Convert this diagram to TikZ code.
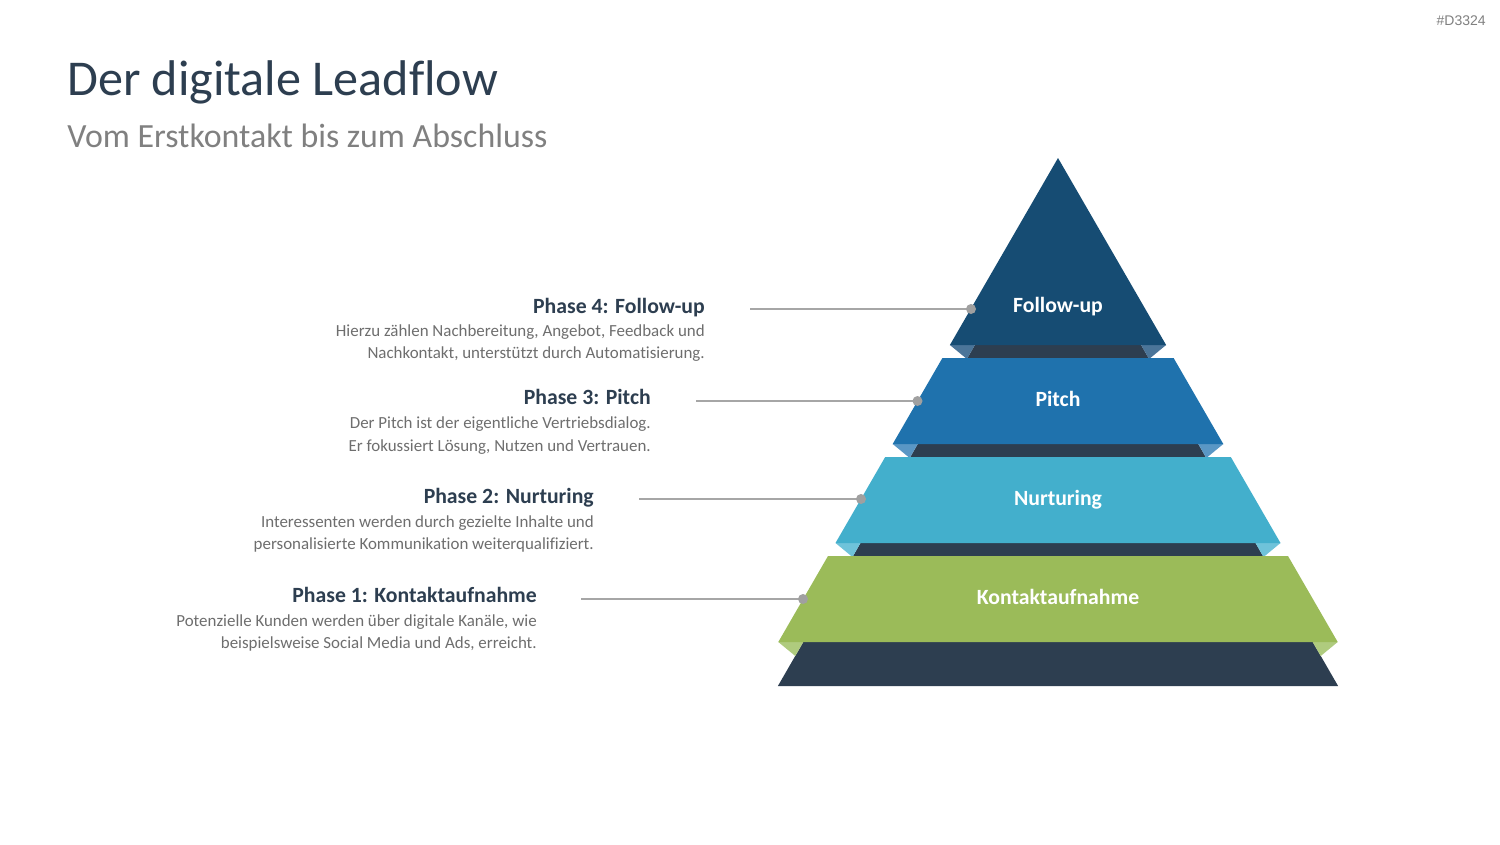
\documentclass[tikz,border=0pt]{standalone}
\usepackage{fontspec}
\setmainfont{Carlito}[Ligatures=NoCommon]
\newfontfamily\tagfont{Liberation Sans}
\definecolor{fucol}{HTML}{164C73}
\definecolor{fulight}{HTML}{4B7599}
\definecolor{picol}{HTML}{1F72AD}
\definecolor{pilight}{HTML}{5A97C5}
\definecolor{nucol}{HTML}{43AFCC}
\definecolor{nulight}{HTML}{6FC3DA}
\definecolor{kocol}{HTML}{9BBB59}
\definecolor{kolight}{HTML}{AFCB7E}
\definecolor{darkband}{HTML}{2D3E50}
\definecolor{titlecol}{HTML}{2D3E50}
\definecolor{subcol}{HTML}{808080}
\definecolor{desccol}{HTML}{6E6E6E}
\definecolor{linecol}{HTML}{A6A6A6}
\definecolor{dotcol}{HTML}{A0A0A0}
\tikzset{
  heading/.style={anchor=base east, inner sep=0pt, text=titlecol, font=\fontsize{16.3}{19}\selectfont\bfseries},
  desc/.style={anchor=base east, inner sep=0pt, text=desccol, font=\fontsize{12.7}{15}\selectfont},
  layerlabel/.style={anchor=base, inner sep=0pt, text=white, font=\fontsize{16.3}{19}\selectfont\bfseries},
  connector/.style={draw=linecol, line width=1.1pt},
  dot/.style={fill=dotcol},
}
\begin{document}
\begin{tikzpicture}[x=0.75pt, y=-0.75pt]
\useasboundingbox (0,0) rectangle (1500,844);
\fill[white] (0,0) rectangle (1500,844);

% tag
\node[anchor=base east, inner sep=0pt, text=subcol, font=\tagfont\fontsize{10.5}{12}\selectfont] (tag) at (1486,25) {\#D3324};

% title
\node[anchor=base west, inner sep=0pt, text=titlecol, font=\fontsize{37.6}{44}\selectfont] (title) at (67,95) {Der digitale Leadflow};
\node[anchor=base west, inner sep=0pt, text=subcol, font=\fontsize{25.4}{30}\selectfont] (subtitle) at (67,147) {Vom Erstkontakt bis zum Abschluss};

% dark bands
\fill[darkband] (974.9,345) -- (1141.1,345) -- (1149.1,359) -- (966.9,359) -- cycle;
\fill[darkband] (917.7,444) -- (1198.3,444) -- (1206.3,458) -- (909.7,458) -- cycle;
\fill[darkband] (860.5,543) -- (1255.5,543) -- (1263.5,557) -- (852.5,557) -- cycle;
\fill[darkband] (803.3,642) -- (1312.7,642) -- (1338.1,686) -- (777.9,686) -- cycle;

% light corner triangles
\fill[fulight] (949.9,345) -- (974.9,345) -- (966.9,359) -- cycle;
\fill[fulight] (1166.1,345) -- (1141.1,345) -- (1149.1,359) -- cycle;
\fill[pilight] (892.7,444) -- (917.7,444) -- (909.7,458) -- cycle;
\fill[pilight] (1223.3,444) -- (1198.3,444) -- (1206.3,458) -- cycle;
\fill[nulight] (835.5,543) -- (860.5,543) -- (852.5,557) -- cycle;
\fill[nulight] (1280.5,543) -- (1255.5,543) -- (1263.5,557) -- cycle;
\fill[kolight] (778.3,642) -- (803.3,642) -- (795.3,656) -- cycle;
\fill[kolight] (1337.7,642) -- (1312.7,642) -- (1320.7,656) -- cycle;

% layers
\fill[fucol] (1058,158) -- (1166.1,345) -- (949.9,345) -- cycle;
\fill[picol] (942.4,358) -- (1173.6,358) -- (1223.3,444) -- (892.7,444) -- cycle;
\fill[nucol] (885.2,457) -- (1230.8,457) -- (1280.5,543) -- (835.5,543) -- cycle;
\fill[kocol] (828.0,556) -- (1288.0,556) -- (1337.7,642) -- (778.3,642) -- cycle;

% layer labels
\node[layerlabel] (lfu) at (1058,312) {Follow-up};
\node[layerlabel] (lpi) at (1058,406) {Pitch};
\node[layerlabel] (lnu) at (1058,505) {Nurturing};
\node[layerlabel] (lko) at (1058,604) {Kontaktaufnahme};

% phase texts
\node[heading] (h4) at (705,313) {Phase 4: Follow-up};
\node[desc] (d4a) at (705,336) {Hierzu zählen Nachbereitung, Angebot, Feedback und};
\node[desc] (d4b) at (705,358) {Nachkontakt, unterstützt durch Automatisierung.};

\node[heading] (h3) at (651,404) {Phase 3: Pitch};
\node[desc] (d3a) at (651,428) {Der Pitch ist der eigentliche Vertriebsdialog.};
\node[desc] (d3b) at (651,451) {Er fokussiert Lösung, Nutzen und Vertrauen.};

\node[heading] (h2) at (594,503) {Phase 2: Nurturing};
\node[desc] (d2a) at (594,527) {Interessenten werden durch gezielte Inhalte und};
\node[desc] (d2b) at (594,549) {personalisierte Kommunikation weiterqualifiziert.};

\node[heading] (h1) at (537,602) {Phase 1: Kontaktaufnahme};
\node[desc] (d1a) at (537,626) {Potenzielle Kunden werden über digitale Kanäle, wie};
\node[desc] (d1b) at (537,648) {beispielsweise Social Media und Ads, erreicht.};

% connectors
\coordinate (s4) at (750,309);  \coordinate (e4) at (971,309);
\coordinate (s3) at (696,401);  \coordinate (e3) at (917.5,401);
\coordinate (s2) at (639,499);  \coordinate (e2) at (861,499);
\coordinate (s1) at (581,599);  \coordinate (e1) at (803,599);
\draw[connector] (s4) -- (e4);
\draw[connector] (s3) -- (e3);
\draw[connector] (s2) -- (e2);
\draw[connector] (s1) -- (e1);
\fill[dot] (e4) circle[radius=5];
\fill[dot] (e3) circle[radius=5];
\fill[dot] (e2) circle[radius=5];
\fill[dot] (e1) circle[radius=5];
\end{tikzpicture}
\end{document}
